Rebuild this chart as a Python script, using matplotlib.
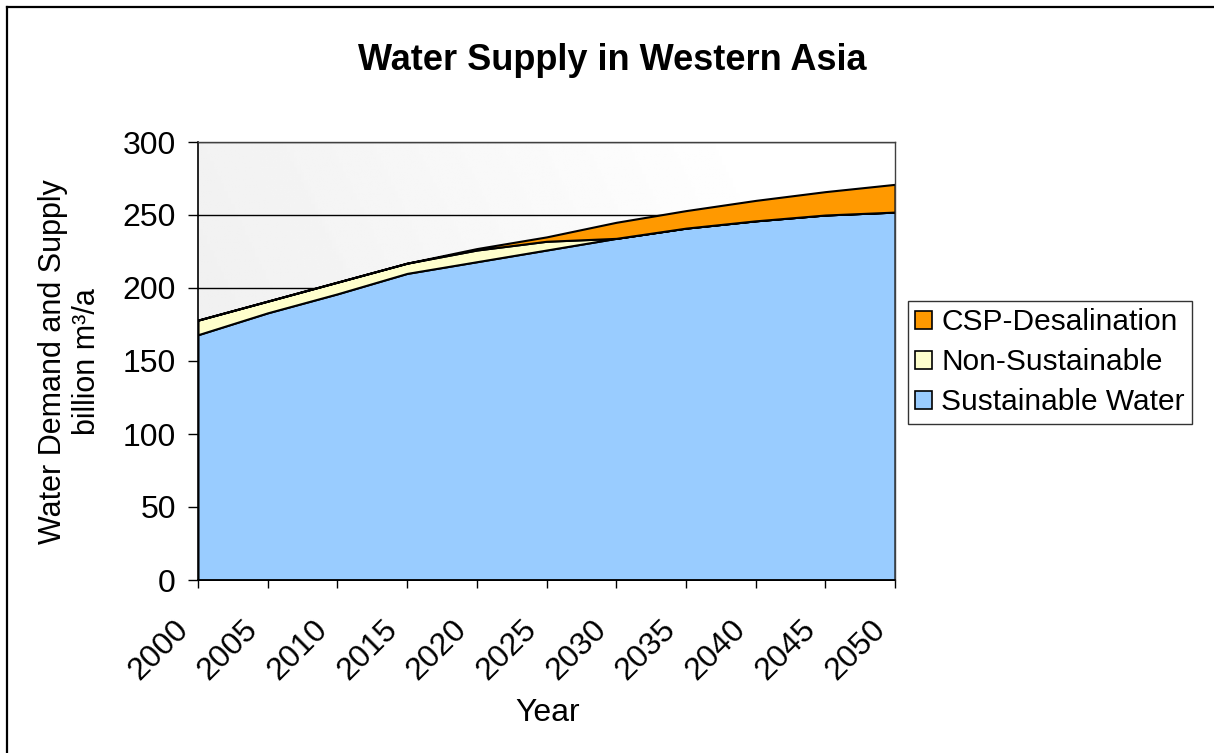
import numpy as np
import matplotlib
matplotlib.use("Agg")
import matplotlib.pyplot as plt
import matplotlib.transforms as mtransforms
from matplotlib.lines import Line2D
from matplotlib.patches import Patch

plt.rcParams['font.family'] = ['Liberation Sans', 'DejaVu Sans']

years = [2000, 2005, 2010, 2015, 2020, 2025, 2030, 2035, 2040, 2045, 2050]
sustainable = [168, 183, 196, 210, 218, 226, 234, 241, 246, 250, 252]
non_sustainable = [10, 8, 8, 7, 8, 6, 0, 0, 0, 0, 0]
csp_desal = [0, 0, 0, 0, 1, 3, 11, 12, 14, 16, 19]

series_names = ['Sustainable Water', 'Non-Sustainable', 'CSP-Desalination']
colors = ['#99CCFF', '#FFFFCC', '#FF9900']
y_ticks = [0, 50, 100, 150, 200, 250, 300]

W, H = 1214, 753
fig = plt.figure(figsize=(W / 100, H / 100), dpi=100)
ax = fig.add_axes([198 / W, 1 - 580 / H, (895 - 198) / W, (580 - 142) / H])

# gradient plot-area background (grey top-left -> white right)
gx, gy = np.meshgrid(np.linspace(0, 1, 200), np.linspace(0, 1, 200))
grad = 0.93 + 0.07 * np.clip((gx + 0.3 * (1 - gy)) / 1.1, 0, 1)
ax.imshow(grad, extent=[years[0], years[-1], 0, 300], aspect='auto',
          cmap='gray', vmin=0, vmax=1, origin='upper', zorder=0)

for yv in y_ticks[1:]:
    ax.axhline(yv, color='black', lw=1.0, zorder=1)

ax.stackplot(years, sustainable, non_sustainable, csp_desal,
             colors=colors, edgecolor='black', linewidth=1.5, zorder=2)

ax.set_xlim(years[0], years[-1])
ax.set_ylim(0, 300)
ax.set_xticks(years)
ax.set_xticklabels([str(y) for y in years], rotation=45, ha='right',
                   va='top', rotation_mode='anchor', fontsize=23)
ax.set_yticks(y_ticks)
ax.set_yticklabels([str(v) for v in y_ticks], fontsize=23)
ax.tick_params(axis='x', direction='out', length=6, width=1, pad=19)
ax.tick_params(axis='y', direction='out', length=7, width=1, pad=9)

# shift rotated year labels to the left like the original
shift = mtransforms.ScaledTranslation(-25 / 100, 0, fig.dpi_scale_trans)
for lab in ax.get_xticklabels():
    lab.set_transform(lab.get_transform() + shift)

for s in ['left', 'bottom']:
    ax.spines[s].set_color('black')
    ax.spines[s].set_linewidth(1.2)
for s in ['top', 'right']:
    ax.spines[s].set_color('#404040')
    ax.spines[s].set_linewidth(1.0)

fig.text(612 / W, 1 - 61 / H, 'Water Supply in Western Asia',
         fontsize=26, fontweight='bold', ha='center', va='center')
fig.text(548 / W, 1 - 713 / H, 'Year', fontsize=23, ha='center', va='center')
fig.text(70 / W, 1 - 362 / H, 'Water Demand and Supply\nbillion m³/a',
         fontsize=22, rotation=90, ha='center', va='center',
         multialignment='center', linespacing=1.15)

handles = [Patch(facecolor=c, edgecolor='black', linewidth=1.2)
           for c in colors][::-1]
leg = fig.legend(handles, series_names[::-1], loc='upper left',
                 bbox_to_anchor=(908 / W, 1 - 301 / H), fontsize=21.5,
                 frameon=True, fancybox=False, edgecolor='black',
                 handlelength=0.57, handleheight=0.57, handletextpad=0.3,
                 labelspacing=0.4, borderpad=0.25, borderaxespad=0)
leg.get_frame().set_linewidth(1.0)

# outer chart frame (left and top edges visible)
fig.add_artist(Line2D([7 / W, 7 / W], [0, 1 - 7 / H], color='black', lw=1.6))
fig.add_artist(Line2D([7 / W, 1], [1 - 7 / H, 1 - 7 / H], color='black', lw=1.6))

fig.savefig('out.png', dpi=100)
